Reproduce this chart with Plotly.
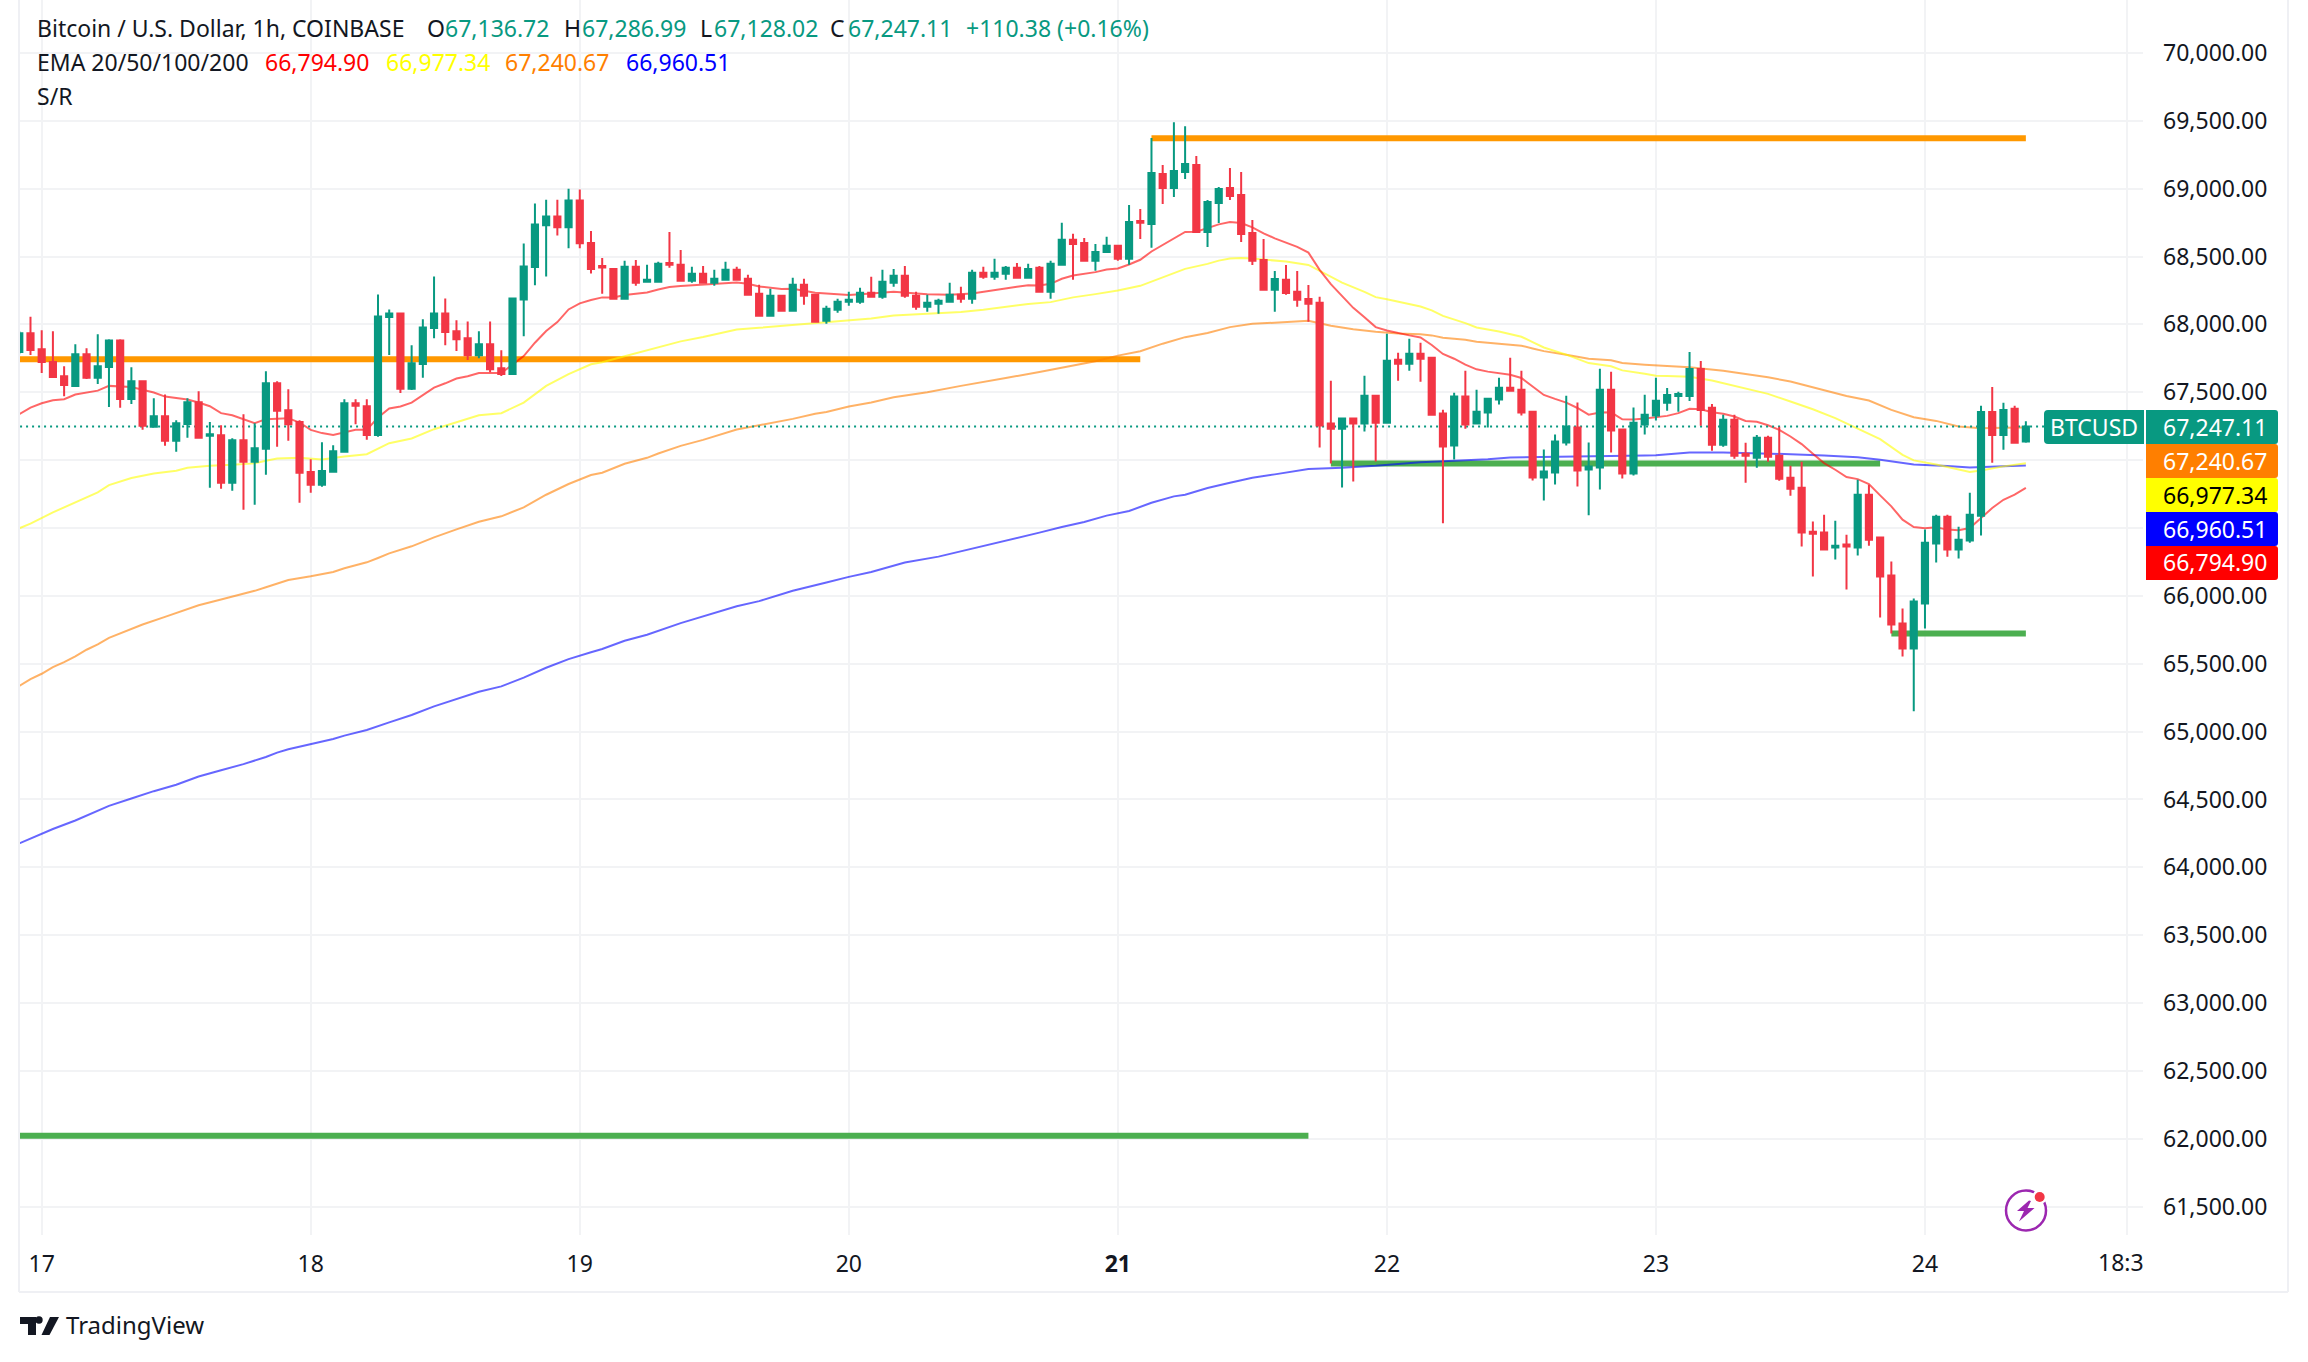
# BTCUSD 1h chart, TradingView look
import plotly.graph_objects as go

W, H = 2308, 1362

# -------------------------------------------------
# candles, one per hour, hour 0 = the 17th 00:00
# -------------------------------------------------
first_hour = -2

opens = [
    67797, 67934, 67816, 67723, 67618, 67547, 67780, 67606, 67686, 67882,
    67451, 67581, 67245, 67324, 67142, 67267, 67427, 67179, 67184, 66833,
    67147, 66988, 67083, 67566, 67368, 67280, 66912, 66819, 66914, 67061,
    67419, 67397, 67186, 68054, 68081, 67525, 67708, 67973, 68081, 67949,
    67897, 67772, 67853, 67677, 67635, 68184, 68422, 68731, 68794, 68716,
    68912, 68600, 68431, 68409, 68189, 68424, 68314, 68314, 68453, 68439,
    68321, 68373, 68306, 68328, 68402, 68336, 68225, 68064, 68211, 68100,
    68292, 68218, 68027, 68108, 68167, 68167, 68233, 68204, 68306, 68358,
    68211, 68130, 68152, 68167, 68218, 68189, 68380, 68351, 68373, 68417,
    68343, 68417, 68240, 68439, 68623, 68600, 68468, 68534, 68579, 68483,
    68762, 68740, 69108, 69005, 69122, 69174, 68681, 68894, 69004, 68953,
    68674, 68475, 68255, 68328, 68240, 68188, 68159, 67269, 67232, 67306,
    67269, 67475, 67276, 67740, 67710, 67784, 67754, 67343, 67107, 67468,
    67269, 67350, 67446, 67534, 67519, 67357, 66872, 66909, 67130, 67240,
    66931, 66946, 67519, 67225, 66902, 67262, 67328, 67422, 67473, 67473,
    67672, 67385, 67113, 67297, 67047, 67017, 67164, 67032, 66870, 66797,
    66473, 66466, 66356, 66378, 66356, 66745, 66429, 66150, 65797, 65613,
    65944, 66385, 66583, 66341, 66407, 66591, 67355, 67186, 67378, 67136.72,
]
highs = [
    67950, 68056, 67956, 67949, 67691, 67853, 67824, 67927, 67890, 67890,
    67684, 67581, 67456, 67483, 67294, 67456, 67507, 67280, 67257, 67162,
    67338, 67272, 67655, 67581, 67522, 67294, 67007, 67132, 67110, 67449,
    67449, 67449, 68221, 68110, 68088, 67846, 68037, 68353, 68191, 68030,
    68022, 67949, 68022, 67809, 68199, 68596, 68890, 68919, 68919, 69000,
    68993, 68689, 68490, 68409, 68468, 68475, 68439, 68461, 68681, 68549,
    68424, 68431, 68402, 68461, 68424, 68365, 68292, 68262, 68211, 68343,
    68336, 68218, 68137, 68189, 68240, 68270, 68351, 68402, 68409, 68431,
    68240, 68218, 68189, 68306, 68277, 68402, 68424, 68483, 68431, 68453,
    68446, 68431, 68468, 68748, 68667, 68637, 68593, 68645, 68586, 68880,
    68851, 69373, 69174, 69490, 69460, 69240, 68916, 69012, 69152, 69122,
    68769, 68630, 68394, 68438, 68394, 68291, 68203, 67585, 67313, 67306,
    67622, 67475, 67931, 67791, 67894, 67865, 67754, 67372, 67497, 67659,
    67519, 67460, 67607, 67754, 67659, 67357, 67078, 67188, 67475, 67424,
    67130, 67674, 67652, 67225, 67387, 67482, 67607, 67532, 67503, 67797,
    67731, 67414, 67334, 67334, 67128, 67186, 67179, 67245, 66958, 66988,
    66547, 66598, 66554, 66451, 66855, 66819, 66429, 66253, 65907, 65980,
    66488, 66598, 66598, 66510, 66760, 67400, 67539, 67422, 67400, 67286.99,
]
lows = [
    67780, 67775, 67642, 67613, 67471, 67547, 67598, 67561, 67392, 67385,
    67414, 67223, 67238, 67106, 67061, 67164, 67164, 66797, 66789, 66775,
    66635, 66672, 66892, 67098, 67142, 66686, 66760, 66804, 66907, 67061,
    67265, 67150, 67172, 67775, 67495, 67517, 67606, 67897, 67846, 67804,
    67738, 67750, 67647, 67620, 67635, 67912, 68289, 68353, 68655, 68561,
    68561, 68375, 68225, 68189, 68189, 68284, 68306, 68314, 68417, 68321,
    68306, 68306, 68284, 68328, 68321, 68218, 68064, 68064, 68093, 68100,
    68145, 68020, 68005, 68086, 68137, 68152, 68196, 68189, 68277, 68196,
    68108, 68093, 68079, 68167, 68159, 68152, 68336, 68328, 68328, 68343,
    68343, 68240, 68189, 68439, 68328, 68468, 68395, 68534, 68468, 68439,
    68630, 68564, 68887, 68939, 69071, 68681, 68571, 68747, 68916, 68607,
    68438, 68255, 68093, 68218, 68130, 68019, 67093, 66975, 66799, 66843,
    67210, 66990, 67276, 67585, 67659, 67578, 67328, 66534, 67004, 67232,
    67262, 67240, 67409, 67512, 67328, 66850, 66703, 66821, 67107, 66806,
    66593, 66784, 67056, 66865, 66887, 67188, 67291, 67363, 67356, 67436,
    67253, 67069, 67098, 67010, 66834, 66944, 66988, 66848, 66738, 66363,
    66142, 66341, 66267, 66047, 66297, 66370, 65841, 65723, 65554, 65150,
    65760, 66245, 66289, 66275, 66392, 66444, 66980, 67076, 67128, 67128.02,
]
closes = [
    67934, 67811, 67723, 67613, 67554, 67780, 67606, 67691, 67882, 67451,
    67581, 67253, 67324, 67142, 67272, 67427, 67164, 67191, 66833, 67147,
    66988, 67088, 67566, 67363, 67265, 66907, 66819, 66919, 67066, 67419,
    67400, 67186, 68059, 68081, 67525, 67713, 67978, 68081, 67944, 67890,
    67772, 67853, 67669, 67635, 68191, 68427, 68736, 68794, 68716, 68912,
    68598, 68409, 68419, 68189, 68424, 68306, 68328, 68446, 68439, 68321,
    68373, 68306, 68336, 68402, 68328, 68218, 68064, 68211, 68100, 68292,
    68211, 68020, 68115, 68167, 68181, 68233, 68204, 68314, 68358, 68211,
    68130, 68159, 68174, 68218, 68189, 68380, 68351, 68380, 68417, 68343,
    68409, 68240, 68446, 68623, 68593, 68468, 68534, 68579, 68483, 68755,
    68748, 69115, 69005, 69130, 69181, 68681, 68902, 68997, 68946, 68666,
    68468, 68255, 68335, 68232, 68181, 68152, 67255, 67232, 67306, 67269,
    67475, 67276, 67732, 67710, 67784, 67747, 67335, 67100, 67468, 67262,
    67357, 67453, 67534, 67512, 67350, 66872, 66916, 67137, 67247, 66924,
    66953, 67519, 67218, 66902, 67276, 67335, 67438, 67480, 67488, 67672,
    67370, 67113, 67297, 67032, 67032, 67164, 67025, 66863, 66789, 66466,
    66458, 66341, 66370, 66363, 66745, 66414, 66142, 65789, 65613, 65958,
    66392, 66583, 66341, 66414, 66598, 67355, 67186, 67370, 67128, 67247.11,
]
hours = [first_hour + i for i in range(len(opens))]

# -------------------------------------------------
# EMAs, read at the bar number given (1 = first bar)
# -------------------------------------------------
ema20_bars = [
    1, 2, 3, 4, 5, 6, 8, 9, 11, 13, 14, 16, 17, 18, 19, 20, 22, 23, 25, 26,
    27, 28, 29, 31, 32, 33, 34, 35, 36, 37, 38, 39, 40, 41, 42, 44, 45, 46,
    47, 48, 49, 50, 51, 52, 53, 54, 55, 57, 58, 59, 60, 62, 64, 65, 66, 67,
    69, 70, 72, 75, 77, 79, 82, 84, 86, 88, 90, 91, 92, 93, 94, 95, 96, 97,
    98, 99, 100, 101, 102, 103, 104, 105, 106, 107, 108, 109, 110, 111, 112,
    113, 114, 115, 116, 117, 118, 119, 120, 121, 122, 123, 124, 125, 126,
    127, 128, 129, 130, 131, 132, 133, 134, 135, 136, 137, 138, 139, 140,
    141, 142, 143, 144, 145, 146, 147, 148, 149, 150, 151, 152, 153, 154,
    155, 156, 157, 158, 159, 160, 161, 162, 163, 164, 165, 166, 167, 168,
    169, 170, 171, 172, 173, 174, 175, 176, 177, 178, 179, 180,
]
ema20_vals = [
    67338, 67387, 67419, 67441, 67449, 67483, 67512, 67547, 67539, 67498,
    67468, 67446, 67424, 67397, 67346, 67331, 67272, 67302, 67309, 67277,
    67223, 67199, 67186, 67223, 67223, 67314, 67380, 67395, 67424, 67481,
    67534, 67566, 67601, 67618, 67642, 67642, 67706, 67767, 67865, 67951,
    68017, 68110, 68155, 68180, 68199, 68199, 68216, 68235, 68257, 68275,
    68282, 68292, 68306, 68309, 68299, 68279, 68260, 68262, 68233, 68216,
    68228, 68240, 68223, 68218, 68228, 68255, 68277, 68289, 68287, 68299,
    68336, 68360, 68373, 68385, 68404, 68412, 68441, 68476, 68537, 68586,
    68630, 68681, 68683, 68708, 68737, 68754, 68747, 68715, 68671, 68634,
    68605, 68571, 68529, 68402, 68296, 68205, 68122, 68053, 67980, 67955,
    67936, 67919, 67904, 67848, 67782, 67747, 67703, 67669, 67652, 67642,
    67629, 67605, 67539, 67480, 67451, 67424, 67384, 67335, 67350, 67352,
    67301, 67299, 67306, 67318, 67326, 67346, 67378, 67375, 67353, 67341,
    67321, 67289, 67282, 67257, 67223, 67174, 67118, 67047, 66978, 66929,
    66875, 66860, 66824, 66740, 66659, 66561, 66507, 66498, 66505, 66488,
    66483, 66500, 66574, 66647, 66708, 66745, 66794.90,
]

ema50_bars = [
    1, 2, 4, 6, 8, 9, 11, 13, 15, 16, 18, 20, 22, 23, 24, 26, 28, 30, 32, 34,
    36, 38, 40, 42, 44, 46, 48, 49, 50, 52, 53, 55, 57, 58, 60, 62, 64, 65,
    67, 69, 70, 72, 75, 77, 79, 80, 83, 85, 87, 89, 91, 93, 95, 97, 99, 101,
    103, 104, 105, 107, 108, 109, 110, 111, 112, 114, 116, 117, 118, 119,
    121, 122, 123, 124, 126, 127, 128, 130, 131, 133, 135, 136, 137, 139,
    141, 143, 144, 146, 147, 148, 150, 152, 153, 155, 157, 159, 161, 163,
    165, 167, 169, 170, 172, 174, 175, 176, 178, 180,
]
ema50_vals = [
    66498, 66532, 66615, 66689, 66762, 66816, 66868, 66902, 66922, 66944,
    66958, 66966, 66976, 66995, 67012, 67017, 67005, 67027, 67044, 67125,
    67159, 67228, 67282, 67331, 67346, 67424, 67547, 67591, 67633, 67706,
    67721, 67765, 67809, 67836, 67875, 67907, 67946, 67963, 67975, 67988,
    68000, 68010, 68029, 68044, 68066, 68071, 68081, 68091, 68108, 68130,
    68150, 68164, 68199, 68223, 68250, 68284, 68346, 68377, 68409, 68446,
    68470, 68485, 68490, 68485, 68478, 68463, 68438, 68394, 68353, 68308,
    68240, 68201, 68186, 68169, 68132, 68103, 68063, 68009, 67977, 67948,
    67909, 67870, 67830, 67777, 67715, 67691, 67661, 67637, 67622, 67620,
    67615, 67586, 67566, 67527, 67488, 67432, 67375, 67309, 67235, 67155,
    67039, 66998, 66968, 66929, 66912, 66924, 66954, 66977.34,
]

ema100_bars = [
    1, 2, 3, 4, 5, 6, 7, 8, 9, 11, 12, 14, 16, 17, 19, 21, 22, 23, 24, 25,
    27, 29, 30, 32, 33, 34, 36, 38, 40, 42, 44, 46, 48, 50, 52, 53, 55, 57,
    58, 60, 62, 64, 65, 67, 70, 72, 73, 75, 77, 79, 82, 85, 87, 89, 92, 95,
    97, 99, 101, 103, 104, 105, 107, 109, 111, 113, 116, 117, 118, 120, 122,
    124, 126, 127, 128, 130, 131, 133, 135, 136, 137, 139, 141, 143, 144,
    146, 147, 150, 153, 157, 159, 162, 164, 166, 168, 170, 172, 174, 176,
    178, 180,
]
ema100_vals = [
    65336, 65387, 65426, 65475, 65512, 65554, 65603, 65642, 65691, 65755,
    65789, 65845, 65899, 65931, 65973, 66012, 66037, 66063, 66090, 66117,
    66144, 66176, 66203, 66247, 66279, 66313, 66365, 66431, 66490, 66546,
    66586, 66652, 66745, 66824, 66890, 66907, 66973, 67017, 67049, 67105,
    67149, 67196, 67225, 67257, 67304, 67341, 67355, 67395, 67424, 67463,
    67500, 67547, 67574, 67605, 67650, 67696, 67728, 67770, 67802, 67858,
    67880, 67906, 67936, 67980, 68004, 68014, 68026, 68009, 67990, 67965,
    67946, 67933, 67928, 67919, 67902, 67887, 67872, 67857, 67843, 67823,
    67803, 67777, 67747, 67735, 67715, 67703, 67698, 67684, 67659, 67610,
    67579, 67512, 67473, 67439, 67370, 67316, 67289, 67248, 67235, 67238,
    67240.67,
]

ema200_bars = [
    1, 2, 4, 6, 8, 9, 11, 13, 15, 17, 19, 21, 23, 24, 25, 27, 29, 30, 32, 34,
    36, 38, 40, 42, 44, 46, 48, 50, 52, 53, 55, 57, 60, 62, 65, 67, 70, 73,
    75, 77, 80, 83, 85, 87, 89, 92, 94, 96, 98, 100, 102, 104, 105, 107, 109,
    111, 113, 116, 119, 122, 126, 129, 132, 134, 136, 139, 142, 144, 146,
    147, 150, 153, 156, 159, 162, 165, 167, 170, 173, 175, 178, 180,
]
ema200_vals = [
    64176, 64213, 64282, 64345, 64414, 64453, 64507, 64561, 64608, 64669,
    64715, 64760, 64813, 64845, 64870, 64907, 64946, 64970, 65012, 65068,
    65122, 65186, 65238, 65294, 65333, 65397, 65470, 65534, 65585, 65608,
    65669, 65713, 65799, 65848, 65924, 65961, 66037, 66098, 66140, 66176,
    66245, 66289, 66328, 66363, 66402, 66466, 66507, 66544, 66591, 66625,
    66686, 66733, 66745, 66794, 66833, 66870, 66895, 66934, 66944, 66958,
    66985, 66995, 67007, 67020, 67022, 67022, 67025, 67030, 67034, 67036,
    67056, 67056, 67052, 67044, 67034, 67022, 67003, 66968, 66956, 66946,
    66954, 66960.51,
]

# support / resistance segments: hour start, hour end, price
res_lines = [(99, 177, 69372), (-3, 98, 67743)]
sup_lines = [(115, 164, 66976), (165, 177, 65723), (-3, 113, 62022)]

# axes
day_hours = [0, 24, 48, 72, 96, 120, 144, 168, 186]
day_labels = ["17", "18", "19", "20", "<b>21</b>", "22", "23", "24", ""]
price_ticks = list(range(61500, 70001, 500))
price_labels = ["" if p in (66500, 67000) else f"{p:,.2f}" for p in price_ticks]

# last value tags, top to bottom
tag_texts = ["67,247.11", "67,240.67", "66,977.34", "66,960.51", "66,794.90"]
tag_fill = ["#089981", "#FF7F00", "#FFFF00", "#0000FF", "#FF0000"]
tag_ink = ["white", "white", "black", "white", "white"]

GREEN, RED, INK = "#089981", "#F23645", "#131722"
FONT = "Noto Sans"
GRID = "#F2F3F5"
FRAME = "#EFF0F4"
X_RANGE = [-2.025, 187.45]
Y_RANGE = [61291, 70390]


def fx(x):
    return x / W


def fy(y):
    return 1 - y / H


def pxpath(points):
    return "M" + " L".join(f"{fx(x):.5f},{fy(y):.5f}" for x, y in points) + " Z"


def tagpath(x0, y0, x1, y1, left=0, right=0):
    # rectangle with small round corners on the given sides
    p = f"M{fx(x0 + left):.5f},{fy(y0):.5f} L{fx(x1 - right):.5f},{fy(y0):.5f} "
    p += f"Q{fx(x1):.5f},{fy(y0):.5f} {fx(x1):.5f},{fy(y0 + right):.5f} "
    p += f"L{fx(x1):.5f},{fy(y1 - right):.5f} Q{fx(x1):.5f},{fy(y1):.5f} {fx(x1 - right):.5f},{fy(y1):.5f} "
    p += f"L{fx(x0 + left):.5f},{fy(y1):.5f} Q{fx(x0):.5f},{fy(y1):.5f} {fx(x0):.5f},{fy(y1 - left):.5f} "
    p += f"L{fx(x0):.5f},{fy(y0 + left):.5f} Q{fx(x0):.5f},{fy(y0):.5f} {fx(x0 + left):.5f},{fy(y0):.5f} Z"
    return p


fig = go.Figure()

for h0, h1, price in res_lines + sup_lines:
    fig.add_trace(go.Scatter(
        x=[h0, h1], y=[price, price], mode="lines",
        line=dict(color="#FF9800" if (h0, h1, price) in res_lines else "#4CAF50", width=6),
        hoverinfo="skip",
    ))

for bars, vals, color in [
    (ema200_bars, ema200_vals, "rgba(0,0,255,0.6)"),
    (ema100_bars, ema100_vals, "rgba(255,127,0,0.6)"),
    (ema50_bars, ema50_vals, "rgba(255,255,0,0.6)"),
    (ema20_bars, ema20_vals, "rgba(255,0,0,0.6)"),
]:
    fig.add_trace(go.Scatter(
        x=[first_hour + b - 1 for b in bars], y=vals, mode="lines",
        line=dict(color=color, width=2),
    ))

# last price dotted line
fig.add_trace(go.Scatter(
    x=[-3, 190], y=[closes[-1], closes[-1]], mode="lines",
    line=dict(color=GREEN, width=2, dash="2px,4px"),
))

# candles go on an overlaid subplot so they sit above the lines
fig.add_trace(go.Candlestick(
    x=hours, open=opens, high=highs, low=lows, close=closes,
    increasing=dict(line=dict(color=GREEN, width=2), fillcolor=GREEN),
    decreasing=dict(line=dict(color=RED, width=2), fillcolor=RED),
    whiskerwidth=0, xaxis="x2", yaxis="y2",
))

fig.update_layout(
    width=W, height=H,
    margin=dict(l=0, r=0, t=0, b=0),
    paper_bgcolor="white", plot_bgcolor="white",
    showlegend=False,
    boxgap=0.45, boxgroupgap=0,
    font=dict(family=FONT, size=23, color=INK),
    xaxis=dict(
        domain=[fx(19), fx(2143)], range=X_RANGE,
        tickmode="array", tickvals=day_hours, ticktext=day_labels,
        showgrid=True, gridcolor=GRID, gridwidth=2,
        zeroline=False, showline=False, ticks="",
        ticklabelstandoff=13,
        tickfont=dict(family=FONT, size=23, color=INK),
        rangeslider=dict(visible=False),
    ),
    yaxis=dict(
        domain=[fy(1235), 1], range=Y_RANGE, side="right",
        tickmode="array", tickvals=price_ticks, ticktext=price_labels,
        showgrid=True, gridcolor=GRID, gridwidth=2,
        zeroline=False, showline=False, ticks="",
        ticklabelstandoff=19,
        tickfont=dict(family=FONT, size=23, color=INK),
    ),
    xaxis2=dict(overlaying="x", anchor="y2", range=X_RANGE, domain=[fx(19), fx(2143)],
                visible=False, rangeslider=dict(visible=False)),
    yaxis2=dict(overlaying="y", anchor="x2", range=Y_RANGE, domain=[fy(1235), 1], visible=False),
)


def label(x, y, text, color=INK, anchor="left", size=23):
    fig.add_annotation(
        xref="paper", yref="paper", x=fx(x), y=fy(y), text=text,
        xanchor=anchor, yanchor="middle", showarrow=False, borderpad=0,
        font=dict(family=FONT, size=size, color=color),
    )


# header lines
label(35.5, 28.5, "Bitcoin / U.S. Dollar, 1h, COINBASE")
for x, text, color in [
    (426, "O", INK), (444, "67,136.72", GREEN), (563, "H", INK), (581, "67,286.99", GREEN),
    (699, "L", INK), (713, "67,128.02", GREEN), (829, "C", INK), (847, "67,247.11", GREEN),
    (965, "+110.38 (+0.16%)", GREEN),
]:
    label(x, 28.5, text, color)
label(35.5, 62, "EMA 20/50/100/200")
for x, text, color in [
    (264, "66,794.90", "#FF0000"), (385, "66,977.34", "#FFFF00"),
    (504, "67,240.67", "#FF7F00"), (625, "66,960.51", "#0000FF"),
]:
    label(x, 62, text, color)
label(35.5, 96.5, "S/R")
label(2121, 1262, "18:3", anchor="center")
label(65, 1324.5, "TradingView", size=24)

# value tags on the price axis
fig.add_shape(type="path", xref="paper", yref="paper", fillcolor=GREEN, line_width=0, layer="above",
              path=tagpath(2044, 410, 2144, 444, left=4))
label(2094, 426.5, "BTCUSD", "white", anchor="center")
for i, (text, fill, ink) in enumerate(zip(tag_texts, tag_fill, tag_ink)):
    top = 410 + i * 34
    fig.add_shape(type="path", xref="paper", yref="paper", fillcolor=fill, line_width=0, layer="above",
                  path=tagpath(2146, top, 2278, top + 34, right=3))
    label(2162, top + 16.5, text, ink)

# chart frame
for x0, y0, x1, y1 in [(19, 0, 19, 1292), (19, 1292, 2288, 1292), (2288, 0, 2288, 1292)]:
    fig.add_shape(type="line", xref="paper", yref="paper", x0=fx(x0), y0=fy(y0), x1=fx(x1), y1=fy(y1),
                  line=dict(color=FRAME, width=2))

# TradingView mark
logo = "#131722"
fig.add_shape(type="path", xref="paper", yref="paper", line_width=0, fillcolor=logo,
              path=pxpath([(20, 1317), (36, 1317), (36, 1335), (28, 1335), (28, 1324), (20, 1324)]))
fig.add_shape(type="path", xref="paper", yref="paper", line_width=0, fillcolor=logo,
              path=pxpath([(50, 1317), (59, 1317), (49.5, 1335), (41.5, 1335)]))
fig.add_shape(type="circle", xref="paper", yref="paper", line_width=0, fillcolor=logo,
              x0=fx(35.3), x1=fx(42.7), y0=fy(1316.3), y1=fy(1323.7))

# lightning badge
fig.add_shape(type="circle", xref="paper", yref="paper", fillcolor="white",
              line=dict(color="#9C27B0", width=2.5), layer="above",
              x0=fx(2006), x1=fx(2046), y0=fy(1190.5), y1=fy(1230.5))
fig.add_shape(type="path", xref="paper", yref="paper", line_width=0, fillcolor="#9C27B0", layer="above",
              path=pxpath([(2029, 1200.5), (2017, 1211), (2024, 1211), (2019, 1221.5),
                           (2034.5, 1208), (2027.5, 1208), (2031, 1201)]))
fig.add_shape(type="circle", xref="paper", yref="paper", fillcolor="white", line_width=0, layer="above",
              x0=fx(2032.5), x1=fx(2047), y0=fy(1189.5), y1=fy(1204))
fig.add_shape(type="circle", xref="paper", yref="paper", fillcolor=RED, line_width=0, layer="above",
              x0=fx(2034.7), x1=fx(2044.7), y0=fy(1192), y1=fy(1202))

fig.write_html("out.html", config={"displayModeBar": False},
               post_script="document.body.style.margin='0';")
